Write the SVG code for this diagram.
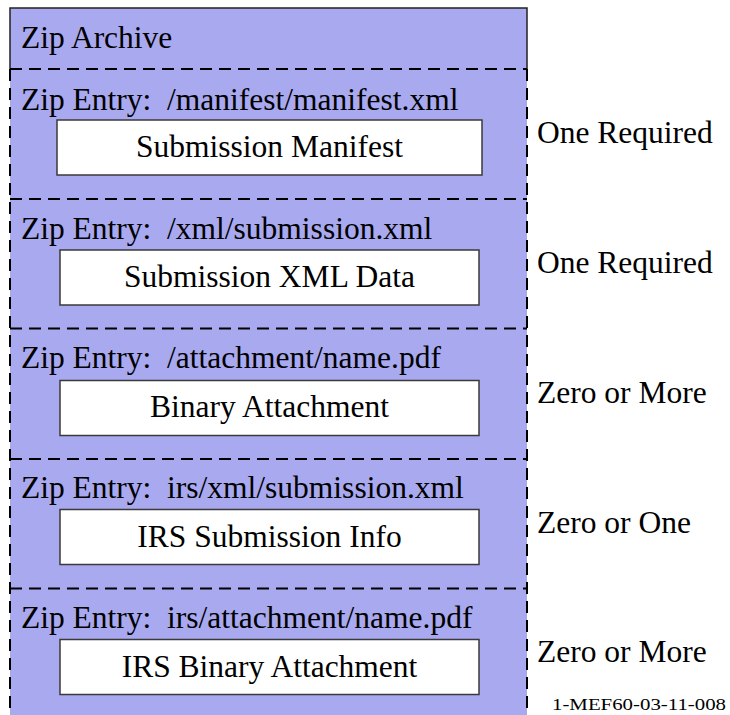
<svg xmlns="http://www.w3.org/2000/svg" width="730" height="715" viewBox="0 0 730 715">
<style>
text{font-family:"Liberation Serif","DejaVu Serif",serif;fill:#000;white-space:pre}
.t{font-size:31.5px}
.c{text-anchor:middle}
.box{fill:#fff;stroke:#3a3a3a;stroke-width:1.5}
.dash{fill:none;stroke:#000;stroke-width:2;stroke-dasharray:12 7}
.solid{fill:none;stroke:#222;stroke-width:1.5}
</style>
<rect width="730" height="715" fill="#fff"/>
<g font-family="Liberation Serif, DejaVu Serif, serif">
<g id="zip-archive">
<rect x="10" y="8" width="517" height="710" fill="#a9a9f0"/>
<path class="solid" d="M10,69 V8 H527 V69"/>
<text class="t" x="21" y="48">Zip Archive</text>
</g>
<g id="connectors">
<path class="dash" d="M10,69 H527 M10,199 H527 M10,328.5 H527 M10,459 H527 M10,588.5 H527"/>
<path class="dash" d="M10,69 V715 M527,69 V715"/>
</g>
<g id="entry-manifest">
<text class="t" x="21" y="110" xml:space="preserve">Zip Entry:  /manifest/manifest.xml</text>
<rect class="box" x="57" y="120" width="425" height="55"/>
<text class="t c" x="269.5" y="157">Submission Manifest</text>
<text class="t" x="537" y="143">One Required</text>
</g>
<g id="entry-submission">
<text class="t" x="21" y="239" xml:space="preserve">Zip Entry:  /xml/submission.xml</text>
<rect class="box" x="60" y="250" width="419" height="55"/>
<text class="t c" x="269.5" y="287">Submission XML Data</text>
<text class="t" x="537" y="273">One Required</text>
</g>
<g id="entry-attachment">
<text class="t" x="21" y="368" xml:space="preserve">Zip Entry:  /attachment/name.pdf</text>
<rect class="box" x="60" y="380.5" width="419" height="55"/>
<text class="t c" x="269.5" y="417">Binary Attachment</text>
<text class="t" x="537" y="403">Zero or More</text>
</g>
<g id="entry-irs-submission">
<text class="t" x="21" y="498" xml:space="preserve">Zip Entry:  irs/xml/submission.xml</text>
<rect class="box" x="60" y="509.5" width="419" height="55"/>
<text class="t c" x="269.5" y="546.5">IRS Submission Info</text>
<text class="t" x="537" y="533">Zero or One</text>
</g>
<g id="entry-irs-attachment">
<text class="t" x="21" y="628" xml:space="preserve">Zip Entry:  irs/attachment/name.pdf</text>
<rect class="box" x="60" y="639.5" width="419" height="55"/>
<text class="t c" x="269.5" y="676.5">IRS Binary Attachment</text>
<text class="t" x="537" y="662">Zero or More</text>
</g>
<text x="552" y="710" font-size="17" textLength="174" lengthAdjust="spacingAndGlyphs">1-MEF60-03-11-008</text>
</g>
</svg>
